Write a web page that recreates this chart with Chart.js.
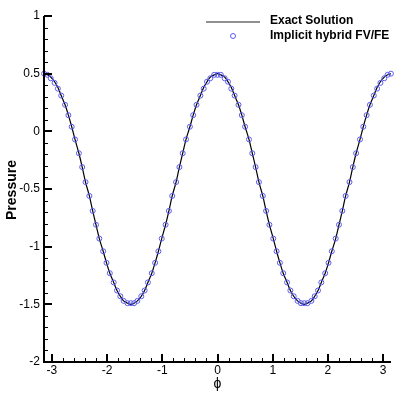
<!DOCTYPE html>
<html>
<head>
<meta charset="utf-8">
<script src="https://cdn.jsdelivr.net/npm/chart.js@4.4.1/dist/chart.umd.min.js"></script>
<style>
  html, body { margin: 0; padding: 0; background: #fff; }
  #chart { display: block; }
</style>
</head>
<body>
<canvas id="chart" width="399" height="399"></canvas>
<script>
// phi 网格点 (-pi .. pi)
const phi = [
  -3.14, -3.08, -3.02, -2.95, -2.89, -2.83, -2.76, -2.70, -2.64, -2.58,
  -2.51, -2.45, -2.39, -2.32, -2.26, -2.20, -2.14, -2.07, -2.01, -1.95,
  -1.88, -1.82, -1.76, -1.70, -1.63, -1.57, -1.51, -1.45, -1.38, -1.32,
  -1.26, -1.19, -1.13, -1.07, -1.01, -0.94, -0.88, -0.82, -0.75, -0.69,
  -0.63, -0.57, -0.50, -0.44, -0.38, -0.31, -0.25, -0.19, -0.13, -0.06,
  0.00,
  0.06, 0.13, 0.19, 0.25, 0.31, 0.38, 0.44, 0.50, 0.57, 0.63,
  0.69, 0.75, 0.82, 0.88, 0.94, 1.01, 1.07, 1.13, 1.19, 1.26,
  1.32, 1.38, 1.45, 1.51, 1.57, 1.63, 1.70, 1.76, 1.82, 1.88,
  1.95, 2.01, 2.07, 2.14, 2.20, 2.26, 2.32, 2.39, 2.45, 2.51,
  2.58, 2.64, 2.70, 2.76, 2.83, 2.89, 2.95, 3.02, 3.08, 3.14
];

// 精确解
const exactPressure = [
  0.50, 0.49, 0.47, 0.43, 0.38, 0.31, 0.23, 0.14, 0.04, -0.07,
  -0.19, -0.31, -0.44, -0.56, -0.69, -0.81, -0.93, -1.04, -1.14, -1.23,
  -1.31, -1.38, -1.43, -1.47, -1.49, -1.50, -1.49, -1.47, -1.43, -1.38,
  -1.31, -1.23, -1.14, -1.04, -0.93, -0.81, -0.69, -0.56, -0.44, -0.31,
  -0.19, -0.07, 0.04, 0.14, 0.23, 0.31, 0.38, 0.43, 0.47, 0.49,
  0.50,
  0.49, 0.47, 0.43, 0.38, 0.31, 0.23, 0.14, 0.04, -0.07, -0.19,
  -0.31, -0.44, -0.56, -0.69, -0.81, -0.93, -1.04, -1.14, -1.23, -1.31,
  -1.38, -1.43, -1.47, -1.49, -1.50, -1.49, -1.47, -1.43, -1.38, -1.31,
  -1.23, -1.14, -1.04, -0.93, -0.81, -0.69, -0.56, -0.44, -0.31, -0.19,
  -0.07, 0.04, 0.14, 0.23, 0.31, 0.38, 0.43, 0.47, 0.49, 0.50
];

// 数值解 (隐式混合 FV/FE)
const hybridPressure = [
  0.50, 0.49, 0.46, 0.42, 0.37, 0.31, 0.23, 0.14, 0.04, -0.07,
  -0.19, -0.31, -0.44, -0.56, -0.69, -0.81, -0.93, -1.04, -1.14, -1.23,
  -1.31, -1.38, -1.43, -1.47, -1.49, -1.49, -1.49, -1.47, -1.43, -1.38,
  -1.31, -1.23, -1.14, -1.04, -0.93, -0.81, -0.69, -0.56, -0.44, -0.31,
  -0.19, -0.07, 0.04, 0.14, 0.23, 0.31, 0.37, 0.43, 0.46, 0.49,
  0.49,
  0.49, 0.46, 0.43, 0.37, 0.31, 0.23, 0.14, 0.04, -0.07, -0.19,
  -0.31, -0.44, -0.56, -0.69, -0.81, -0.93, -1.04, -1.14, -1.23, -1.31,
  -1.38, -1.43, -1.47, -1.49, -1.49, -1.49, -1.47, -1.43, -1.38, -1.31,
  -1.23, -1.14, -1.04, -0.93, -0.81, -0.69, -0.56, -0.44, -0.31, -0.19,
  -0.07, 0.04, 0.14, 0.23, 0.31, 0.37, 0.42, 0.46, 0.49, 0.50
];

const xTicks = [-3, -2, -1, 0, 1, 2, 3];
const yTicks = [-2, -1.5, -1, -0.5, 0, 0.5, 1];
const xMinorStep = 0.2;
const yMinorStep = 0.1;
const seriesNames = ['Exact Solution', 'Implicit hybrid FV/FE'];
const xTitle = 'ϕ';
const yTitle = 'Pressure';

const markerColor = '#5a5af0';
const fontFamily = '"Liberation Sans", Arial, sans-serif';

// 向内的刻度、坐标轴和标签 (Tecplot 风格)
const axesPlugin = {
  id: 'tecAxes',
  afterDraw(chart) {
    const { ctx, chartArea: a, scales: { x, y } } = chart;
    ctx.save();
    ctx.strokeStyle = '#000';
    // 次刻度
    ctx.lineWidth = 1;
    ctx.beginPath();
    for (let v = -3; v <= 3.0001; v += xMinorStep) {
      const px = Math.round(x.getPixelForValue(v)) + 0.5;
      ctx.moveTo(px, a.bottom);
      ctx.lineTo(px, a.bottom - 4);
    }
    for (let v = -2; v <= 1.0001; v += yMinorStep) {
      const py = Math.round(y.getPixelForValue(v)) + 0.5;
      ctx.moveTo(a.left, py);
      ctx.lineTo(a.left + 4, py);
    }
    ctx.stroke();
    // 主刻度
    ctx.lineWidth = 2;
    ctx.beginPath();
    xTicks.forEach(v => {
      const px = Math.round(x.getPixelForValue(v));
      ctx.moveTo(px, a.bottom);
      ctx.lineTo(px, a.bottom - 8);
    });
    yTicks.forEach(v => {
      const py = Math.round(y.getPixelForValue(v));
      ctx.moveTo(a.left, py);
      ctx.lineTo(a.left + 8, py);
    });
    ctx.stroke();
    // 轴线
    ctx.beginPath();
    ctx.moveTo(Math.round(a.left), Math.round(a.top));
    ctx.lineTo(Math.round(a.left), Math.round(a.bottom));
    ctx.lineTo(Math.round(a.right), Math.round(a.bottom));
    ctx.stroke();

    // 刻度标签
    ctx.fillStyle = '#000';
    ctx.font = '12px ' + fontFamily;
    ctx.textBaseline = 'middle';
    ctx.textAlign = 'right';
    yTicks.forEach(v => ctx.fillText(String(v), a.left - 4, y.getPixelForValue(v)));
    ctx.textAlign = 'center';
    ctx.textBaseline = 'top';
    xTicks.forEach(v => ctx.fillText(String(v), x.getPixelForValue(v), a.bottom + 3));

    // 轴标题
    ctx.font = '14px ' + fontFamily;
    ctx.textBaseline = 'middle';
    ctx.fillText(xTitle, x.getPixelForValue(0), a.bottom + 22);
    ctx.save();
    ctx.translate(12, 190);
    ctx.rotate(-Math.PI / 2);
    ctx.font = 'bold 14px ' + fontFamily;
    ctx.fillText(yTitle, 0, 0);
    ctx.restore();
    ctx.restore();
  }
};

// 右上角图例
const legendPlugin = {
  id: 'tecLegend',
  afterDraw(chart) {
    const { ctx } = chart;
    ctx.save();
    ctx.strokeStyle = '#222';
    ctx.lineWidth = 1.2;
    ctx.beginPath();
    ctx.moveTo(206, 22);
    ctx.lineTo(260, 22);
    ctx.stroke();
    ctx.strokeStyle = markerColor;
    ctx.lineWidth = 1;
    ctx.beginPath();
    ctx.arc(233, 36, 2.5, 0, Math.PI * 2);
    ctx.stroke();
    ctx.fillStyle = '#000';
    ctx.font = 'bold 12px ' + fontFamily;
    ctx.textBaseline = 'middle';
    ctx.textAlign = 'left';
    ctx.fillText(seriesNames[0], 270, 21);
    ctx.fillText(seriesNames[1], 270, 36);
    ctx.restore();
  }
};

const ctx = document.getElementById('chart').getContext('2d');
new Chart(ctx, {
  type: 'scatter',
  data: {
    datasets: [
      {
        label: seriesNames[0],
        data: phi.map((v, i) => ({ x: v, y: exactPressure[i] })),
        showLine: true,
        borderColor: '#000',
        borderWidth: 1.2,
        pointRadius: 0,
        tension: 0.3,
        order: 2
      },
      {
        label: seriesNames[1],
        data: phi.map((v, i) => ({ x: v, y: hybridPressure[i] })),
        showLine: false,
        pointStyle: 'circle',
        pointRadius: 2.5,
        borderColor: markerColor,
        borderWidth: 1,
        backgroundColor: 'rgba(0,0,0,0)',
        clip: false,
        order: 1
      }
    ]
  },
  options: {
    responsive: false,
    animation: false,
    layout: { padding: { top: 16, right: 8, left: 0, bottom: 0 } },
    plugins: {
      legend: { display: false },
      tooltip: { enabled: false }
    },
    scales: {
      x: {
        type: 'linear',
        min: -3.1416,
        max: 3.1416,
        afterFit: s => { s.height = 37; },
        grid: { display: false },
        border: { display: false },
        ticks: { display: false },
        title: { display: false }
      },
      y: {
        type: 'linear',
        min: -2,
        max: 1,
        afterFit: s => { s.width = 44; },
        grid: { display: false },
        border: { display: false },
        ticks: { display: false },
        title: { display: false }
      }
    }
  },
  plugins: [axesPlugin, legendPlugin]
});
</script>
</body>
</html>
